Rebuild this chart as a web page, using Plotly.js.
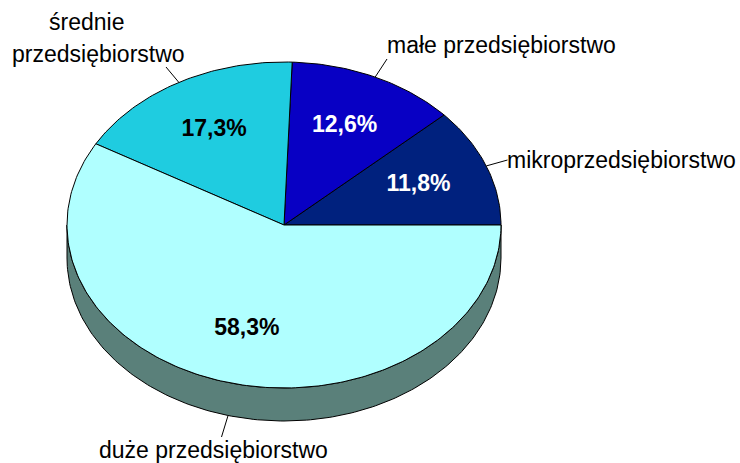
<!DOCTYPE html>
<html>
<head>
<meta charset="utf-8">
<script src="https://cdn.plot.ly/plotly-3.0.1.min.js"></script>
<style>html,body{margin:0;padding:0;background:#fff;}#chart{width:740px;height:463px;}</style>
</head>
<body>
<div id="chart"></div>
<script>
// ---- data ----
const categories = ['mikroprzedsiębiorstwo', 'małe przedsiębiorstwo', 'średnie przedsiębiorstwo', 'duże przedsiębiorstwo'];
const shares = [11.8, 12.6, 17.3, 58.3];
const topColors = ['#00217E', '#0800C4', '#1FCCE0', '#B0FFFF'];
const sideColors = ['#00103F', '#040062', '#0F6670', '#5A807A'];
const textColors = ['#FFFFFF', '#FFFFFF', '#000000', '#000000'];

// ---- layout of the drawing (pixel-space axes) ----
const geo = {cx: 284, cy: 225, rx: 217, ry: 163, depth: 33, textR: 0.665};
// label placements: lines of each category label, anchor of its leader line
const labelLayout = [
  {lines: [{t: 'mikroprzedsiębiorstwo', x: 621, y: 160}], anchor: [507.5, 160]},
  {lines: [{t: 'małe przedsiębiorstwo', x: 501, y: 45}], anchor: [387, 59]},
  {lines: [{t: 'średnie', x: 86, y: 22}, {t: 'przedsiębiorstwo', x: 98, y: 54}], anchor: [166, 67]},
  {lines: [{t: 'duże przedsiębiorstwo', x: 213, y: 450}], anchor: [221.5, 437]}
];

function pt(deg, dy) {
  const t = deg * Math.PI / 180;
  return [geo.cx + geo.rx * Math.cos(t), geo.cy - geo.ry * Math.sin(t) + (dy || 0)];
}
function arc(a, b, dy) {
  const out = [];
  const n = Math.max(2, Math.ceil(Math.abs(b - a)));
  for (let i = 0; i <= n; i++) out.push(pt(a + (b - a) * i / n, dy));
  return out;
}

const total = shares.reduce((s, v) => s + v, 0);
const slices = [];
let start = 0;
shares.forEach((v, i) => {
  const a0 = start, a1 = start + v / total * 360;
  slices.push({i, a0, a1, mid: (a0 + a1) / 2});
  start = a1;
});

const traces = [];
// side walls (front half only)
slices.forEach(s => {
  const lo = Math.max(s.a0, 180), hi = Math.min(s.a1, 360);
  if (hi > lo) {
    const pts = arc(lo, hi, 0).concat(arc(hi, lo, geo.depth));
    pts.push(pts[0]);
    traces.push({type: 'scatter', mode: 'lines', x: pts.map(p => p[0]), y: pts.map(p => p[1]),
      fill: 'toself', fillcolor: sideColors[s.i], line: {color: '#000', width: 1}, hoverinfo: 'skip'});
  }
});
// top faces
slices.forEach(s => {
  const pts = [[geo.cx, geo.cy]].concat(arc(s.a0, s.a1, 0));
  pts.push([geo.cx, geo.cy]);
  traces.push({type: 'scatter', mode: 'lines', x: pts.map(p => p[0]), y: pts.map(p => p[1]),
    fill: 'toself', fillcolor: topColors[s.i], line: {color: '#000', width: 1}, hoverinfo: 'skip'});
});
// leader lines
slices.forEach(s => {
  const front = s.mid > 180 && s.mid < 360;
  const e = pt(s.mid, front ? geo.depth : 0);
  const a = labelLayout[s.i].anchor;
  traces.push({type: 'scatter', mode: 'lines', x: [e[0], a[0]], y: [e[1], a[1]],
    line: {color: '#000', width: 1}, hoverinfo: 'skip'});
});
// percentage labels
const tp = slices.map(s => {
  const t = s.mid * Math.PI / 180;
  return [geo.cx + geo.rx * geo.textR * Math.cos(t), geo.cy - geo.ry * geo.textR * Math.sin(t)];
});
traces.push({type: 'scatter', mode: 'text', x: tp.map(p => p[0]), y: tp.map(p => p[1]),
  text: shares.map(v => '<b>' + v.toFixed(1).replace('.', ',') + '%</b>'),
  textposition: 'middle center',
  textfont: {family: 'Liberation Sans, Arial, sans-serif', size: 23, color: textColors},
  hoverinfo: 'skip'});

const annotations = [];
labelLayout.forEach(L => L.lines.forEach(l => annotations.push({
  x: l.x, y: l.y, xref: 'x', yref: 'y', text: l.t, showarrow: false,
  xanchor: 'center', yanchor: 'middle',
  font: {family: 'Liberation Sans, Arial, sans-serif', size: 23, color: '#000'}
})));

const layout = {
  width: 740, height: 463, margin: {l: 0, r: 0, t: 0, b: 0},
  paper_bgcolor: '#fff', plot_bgcolor: '#fff', showlegend: false,
  xaxis: {range: [0, 740], visible: false, fixedrange: true},
  yaxis: {range: [463, 0], visible: false, fixedrange: true},
  annotations: annotations
};
Plotly.newPlot('chart', traces, layout, {staticPlot: true, displayModeBar: false});
</script>
</body>
</html>
